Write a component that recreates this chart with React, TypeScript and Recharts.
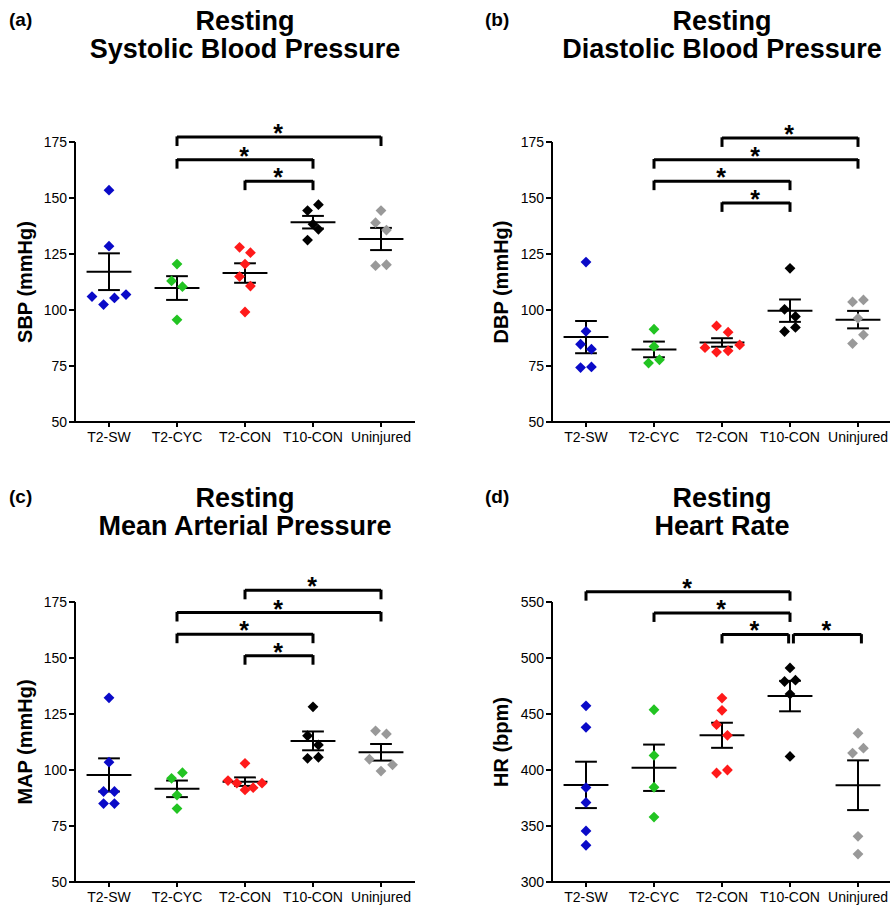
import { ComposedChart, Scatter, XAxis, YAxis, ReferenceLine, ReferenceDot } from 'recharts';

const groups = ['T2-SW', 'T2-CYC', 'T2-CON', 'T10-CON', 'Uninjured'];
const groupColors = ['#0a0ac8', '#22c422', '#ff1a1a', '#000000', '#999999'];

// (a) systolic
const sbpValues = [
    [153.5, 128.5, 106.0, 102.4, 105.4, 106.9],
    [120.5, 113.0, 110.4, 95.6],
    [128.0, 125.6, 120.5, 114.9, 110.7, 99.1],
    [147.0, 144.4, 138.3, 136.0, 131.2],
    [144.4, 139.0, 135.7, 119.8, 120.2],
];
const sbpJitter = [
    [0, 0, -0.25, -0.08, 0.08, 0.25],
    [0, -0.08, 0.08, 0],
    [-0.08, 0.08, 0, -0.08, 0.08, 0],
    [0.08, -0.08, 0, 0.08, -0.08],
    [0, -0.08, 0.08, -0.08, 0.08],
];
const sbpMean = [117.1, 109.8, 116.5, 139.2, 131.7];
const sbpSem = [8.2, 5.3, 4.35, 2.8, 4.95];
const sbpBrackets = [
    [1, 4, 177.2],
    [1, 3, 167.1],
    [2, 3, 157.5],
];

// (b) diastolic
const dbpValues = [
    [121.4, 90.5, 84.7, 82.5, 74.3, 74.6],
    [91.4, 83.7, 76.3, 77.8],
    [92.9, 90.1, 83.2, 81.2, 81.8, 84.4],
    [118.6, 100.3, 97.1, 92.2, 90.4],
    [103.6, 104.5, 96.3, 88.9, 85.0],
];
const dbpJitter = [
    [0, 0, -0.08, 0.08, -0.08, 0.08],
    [0, 0, -0.08, 0.08],
    [-0.08, 0.09, -0.25, -0.08, 0.09, 0.26],
    [0, -0.08, 0.08, 0.08, -0.08],
    [-0.08, 0.08, 0, 0.08, -0.08],
];
const dbpMean = [87.9, 82.4, 85.5, 99.7, 95.7];
const dbpSem = [7.2, 3.5, 1.9, 5.0, 3.9];
const dbpBrackets = [
    [2, 4, 176.8],
    [1, 4, 167.1],
    [1, 3, 157.5],
    [2, 3, 147.8],
];

// (c) mean arterial
const mapValues = [
    [132.2, 103.5, 90.4, 90.4, 85.0, 85.0],
    [96.3, 98.8, 88.8, 82.8],
    [103.0, 95.3, 94.1, 91.1, 92.1, 94.1],
    [128.2, 115.3, 111.2, 105.2, 105.7],
    [117.5, 116.1, 104.8, 102.3, 99.5],
];
const mapJitter = [
    [0, 0, -0.08, 0.08, -0.08, 0.08],
    [-0.08, 0.08, 0, 0],
    [0, -0.25, -0.12, 0, 0.12, 0.25],
    [0, -0.08, 0.08, -0.08, 0.08],
    [-0.08, 0.08, -0.17, 0.17, 0],
];
const mapMean = [97.8, 91.6, 94.8, 113.0, 107.9];
const mapSem = [7.4, 3.7, 1.9, 4.2, 3.7];
const mapBrackets = [
    [2, 4, 180.2],
    [1, 4, 170.3],
    [1, 3, 160.6],
    [2, 3, 151.0],
];

// (d) heart rate
const hrValues = [
    [457.3, 438.1, 384.3, 371.0, 345.6, 332.8],
    [453.8, 413.0, 384.6, 358.0],
    [464.2, 453.3, 440.5, 431.0, 397.3, 400.0],
    [491.1, 479.0, 480.2, 467.8, 412.1],
    [432.8, 415.1, 419.5, 340.8, 324.9],
];
const hrJitter = [
    [0, 0, 0, 0, 0, 0],
    [0, 0, 0, 0],
    [0, 0, -0.08, 0.08, -0.08, 0.08],
    [0, -0.08, 0.08, 0, 0],
    [0, -0.08, 0.08, 0, 0],
];
const hrMean = [386.7, 402.0, 431.0, 466.0, 386.4];
const hrSem = [20.7, 20.7, 11.2, 13.6, 22.2];
const hrBrackets = [
    [0, 3, 559.2],
    [1, 3, 540.2],
    [2, 2.98, 521.0],
    [3.05, 4.05, 521.0],
];

const bpTicks = [50, 75, 100, 125, 150, 175];
const hrTicks = [300, 350, 400, 450, 500, 550];

const Diamond = (props: any) => {
    const { cx, cy, fill } = props;
    const r = 5.4;
    return <path d={`M${cx},${cy - r}L${cx + r},${cy}L${cx},${cy + r}L${cx - r},${cy}Z`} fill={fill} />;
};

const Star = (props: any) => (
    <text x={props.cx - 1} y={props.cy + 5} textAnchor="middle" fontSize={25} fontWeight="bold" fill="#000">
        *
    </text>
);

interface PanelProps {
    left: number;
    top: number;
    width: number;
    axisWidth: number;
    values: number[][];
    jitter: number[][];
    means: number[];
    sems: number[];
    brackets: number[][];
    domain: [number, number];
    ticks: number[];
    drop: number;
}

function Panel({ left, top, width, axisWidth, values, jitter, means, sems, brackets, domain, ticks, drop }: PanelProps) {
    return (
        <div style={{ position: 'absolute', left, top }}>
            <ComposedChart width={width} height={460} margin={{ top: 142, right: 0, bottom: 8, left: 0 }}>
                <XAxis
                    type="number"
                    dataKey="x"
                    domain={[-0.5, 4.5]}
                    ticks={[0, 1, 2, 3, 4]}
                    interval={0}
                    tickFormatter={(v) => groups[v]}
                    height={30}
                    tickSize={5}
                    tickMargin={5}
                    tick={{ fill: '#000', fontSize: 14 }}
                    tickLine={{ stroke: '#000', strokeWidth: 2 }}
                    axisLine={{ stroke: '#000', strokeWidth: 2 }}
                />
                <YAxis
                    type="number"
                    dataKey="y"
                    domain={domain}
                    ticks={ticks}
                    interval={0}
                    width={axisWidth}
                    tickSize={6}
                    tickMargin={2}
                    tick={{ fill: '#000', fontSize: 14 }}
                    tickLine={{ stroke: '#000', strokeWidth: 2 }}
                    axisLine={{ stroke: '#000', strokeWidth: 2 }}
                />
                {groups.map((g, i) => (
                    <Scatter
                        key={g}
                        name={g}
                        data={values[i].map((v, k) => ({ x: i + jitter[i][k], y: v }))}
                        fill={groupColors[i]}
                        shape={Diamond}
                        isAnimationActive={false}
                    />
                ))}
                {means.map((m, i) => (
                    <ReferenceLine
                        key={`m${i}`}
                        segment={[{ x: i - 0.33, y: m }, { x: i + 0.33, y: m }]}
                        stroke="#000"
                        strokeWidth={2}
                        ifOverflow="visible"
                    />
                ))}
                {means.map((m, i) => (
                    <ReferenceLine
                        key={`v${i}`}
                        segment={[{ x: i, y: m - sems[i] }, { x: i, y: m + sems[i] }]}
                        stroke="#000"
                        strokeWidth={2}
                        ifOverflow="visible"
                    />
                ))}
                {means.map((m, i) => (
                    <ReferenceLine
                        key={`t${i}`}
                        segment={[{ x: i - 0.16, y: m + sems[i] }, { x: i + 0.16, y: m + sems[i] }]}
                        stroke="#000"
                        strokeWidth={2}
                        ifOverflow="visible"
                    />
                ))}
                {means.map((m, i) => (
                    <ReferenceLine
                        key={`b${i}`}
                        segment={[{ x: i - 0.16, y: m - sems[i] }, { x: i + 0.16, y: m - sems[i] }]}
                        stroke="#000"
                        strokeWidth={2}
                        ifOverflow="visible"
                    />
                ))}
                {brackets.map(([a, b, y], i) => (
                    <ReferenceLine
                        key={`h${i}`}
                        segment={[{ x: a, y }, { x: b, y }]}
                        stroke="#000"
                        strokeWidth={3}
                        ifOverflow="visible"
                    />
                ))}
                {brackets.map(([a, , y], i) => (
                    <ReferenceLine
                        key={`l${i}`}
                        segment={[{ x: a, y: y + 0.3 }, { x: a, y: y - drop }]}
                        stroke="#000"
                        strokeWidth={3}
                        ifOverflow="visible"
                    />
                ))}
                {brackets.map(([, b, y], i) => (
                    <ReferenceLine
                        key={`r${i}`}
                        segment={[{ x: b, y: y + 0.3 }, { x: b, y: y - drop }]}
                        stroke="#000"
                        strokeWidth={3}
                        ifOverflow="visible"
                    />
                ))}
                {brackets.map(([a, b, y], i) => (
                    <ReferenceDot key={`s${i}`} x={(a + b) / 2} y={y} r={0} ifOverflow="visible" shape={Star} />
                ))}
            </ComposedChart>
        </div>
    );
}

const titleStyle = {
    position: 'absolute' as const,
    width: 340,
    textAlign: 'center' as const,
    fontSize: 27,
    fontWeight: 'bold' as const,
    lineHeight: '28px',
};

const tagStyle = {
    position: 'absolute' as const,
    fontSize: 19,
    fontWeight: 'bold' as const,
    lineHeight: '22px',
};

const yLabelStyle = {
    position: 'absolute' as const,
    width: 300,
    height: 24,
    lineHeight: '24px',
    textAlign: 'center' as const,
    fontSize: 20,
    fontWeight: 'bold' as const,
    transform: 'rotate(-90deg)',
    transformOrigin: 'center',
};

export default function App() {
    return (
        <div
            style={{
                position: 'absolute',
                left: 0,
                top: 0,
                width: 890,
                height: 907,
                overflow: 'hidden',
                background: '#fff',
                fontFamily: '"Liberation Sans", Arial, sans-serif',
                color: '#000',
            }}
        >
            <Panel left={0} top={0} width={415} axisWidth={75} values={sbpValues} jitter={sbpJitter}
                means={sbpMean} sems={sbpSem} brackets={sbpBrackets} domain={[50, 175]} ticks={bpTicks} drop={4} />
            <Panel left={470} top={0} width={422} axisWidth={82} values={dbpValues} jitter={dbpJitter}
                means={dbpMean} sems={dbpSem} brackets={dbpBrackets} domain={[50, 175]} ticks={bpTicks} drop={4} />
            <Panel left={0} top={460} width={415} axisWidth={75} values={mapValues} jitter={mapJitter}
                means={mapMean} sems={mapSem} brackets={mapBrackets} domain={[50, 175]} ticks={bpTicks} drop={4} />
            <Panel left={470} top={460} width={422} axisWidth={82} values={hrValues} jitter={hrJitter}
                means={hrMean} sems={hrSem} brackets={hrBrackets} domain={[300, 550]} ticks={hrTicks} drop={8} />

            <div style={{ ...tagStyle, left: 9, top: 9 }}>(a)</div>
            <div style={{ ...tagStyle, left: 485, top: 9 }}>(b)</div>
            <div style={{ ...tagStyle, left: 9, top: 486 }}>(c)</div>
            <div style={{ ...tagStyle, left: 485, top: 486 }}>(d)</div>

            <div style={{ ...titleStyle, left: 75, top: 7 }}>Resting<br />Systolic Blood Pressure</div>
            <div style={{ ...titleStyle, left: 552, top: 7 }}>Resting<br />Diastolic Blood Pressure</div>
            <div style={{ ...titleStyle, left: 75, top: 484 }}>Resting<br />Mean Arterial Pressure</div>
            <div style={{ ...titleStyle, left: 552, top: 484 }}>Resting<br />Heart Rate</div>

            <div style={{ ...yLabelStyle, left: 25 - 150, top: 282 - 12 }}>SBP (mmHg)</div>
            <div style={{ ...yLabelStyle, left: 501 - 150, top: 282 - 12 }}>DBP (mmHg)</div>
            <div style={{ ...yLabelStyle, left: 25 - 150, top: 742 - 12 }}>MAP (mmHg)</div>
            <div style={{ ...yLabelStyle, left: 501 - 150, top: 742 - 12 }}>HR (bpm)</div>
        </div>
    );
}
